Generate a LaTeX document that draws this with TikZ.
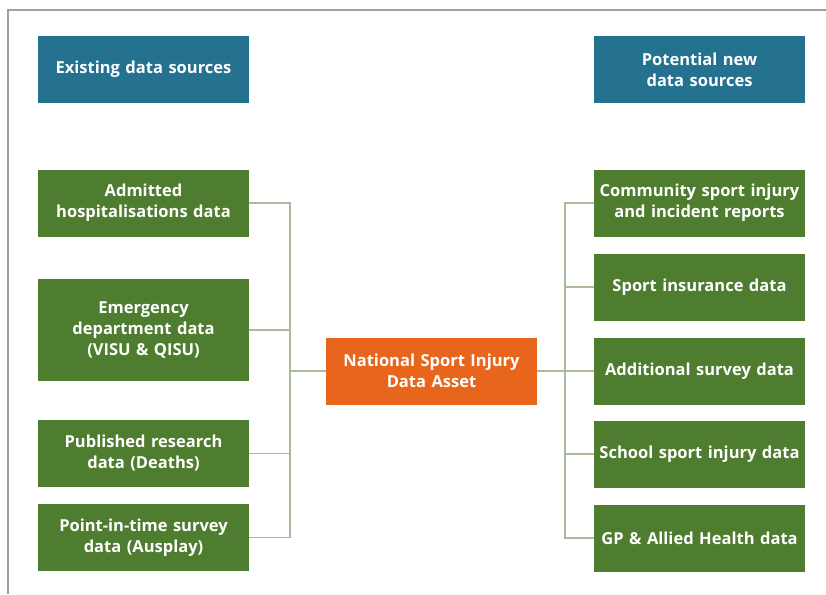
\documentclass[tikz,border=0pt]{standalone}
\usepackage{fontspec}
\setmainfont{Open Sans}
\usepackage{xcolor}
\usepackage{tikz}
\usetikzlibrary{calc, positioning}

\definecolor{headteal}{HTML}{24728F}
\definecolor{srcgreen}{HTML}{4F7D30}
\definecolor{hubred}{HTML}{E8661C}
\definecolor{linkgreen}{HTML}{A9BB9C}
\definecolor{framegray}{HTML}{A0A0A0}

\begin{document}
\begin{tikzpicture}[x=1pt, y=-1pt, font=\fontsize{16.5}{21}\selectfont\bfseries]
		\tikzstyle{head} = [fill=headteal, text=white, rectangle, minimum width=211pt, minimum height=67pt, text width=205pt, align=center, inner sep=0pt]
		\tikzstyle{source} = [fill=srcgreen, text=white, rectangle, minimum width=211pt, minimum height=67pt, text width=205pt, align=center, inner sep=0pt]
		\tikzstyle{hub} = [fill=hubred, text=white, rectangle, minimum width=211pt, minimum height=67pt, text width=205pt, align=center, inner sep=0pt]
		\tikzstyle{link} = [draw=linkgreen, line width=1.4pt]
		
		\useasboundingbox (0,0) rectangle (826,594);
		\draw [framegray, line width=1.3pt] (826,10) -- (8,10) -- (8,594);
		
		\node[head]		at (143.5, 69.5)	(h1)	{Existing data sources};
		\node[head]		at (699.5, 69.5)	(h2)	{Potential new\\data sources};
		
		\node[source]	at (143.5, 203)		(l1)	{Admitted\\hospitalisations data};
		\node[source, minimum height=102pt]	at (143.5, 330)	(l2)	{Emergency\\department data\\(VISU \& QISU)};
		\node[source]	at (143.5, 453.5)	(l3)	{Published research\\data (Deaths)};
		\node[source]	at (143.5, 537.5)	(l4)	{Point-in-time survey\\data (Ausplay)};
		
		\node[hub]		at (431.5, 371)		(c0)	{National Sport Injury\\Data Asset};
		
		\node[source]	at (699.5, 203)		(r1)	{Community sport injury\\and incident reports};
		\node[source]	at (699.5, 287)		(r2)	{Sport insurance data};
		\node[source]	at (699.5, 371)		(r3)	{Additional survey data};
		\node[source]	at (699.5, 454)		(r4)	{School sport injury data};
		\node[source]	at (699.5, 538)		(r5)	{GP \& Allied Health data};
		
		\coordinate (lbus) at (290, 371);
		\coordinate (rbus) at (565, 371);
		
		\draw [link] (l1.east) -| (lbus);
		\draw [link] (l2.east) -| (lbus);
		\draw [link] (l3.east) -| (lbus);
		\draw [link] (l4.east) -| (lbus);
		\draw [link] (lbus) -- (c0.west);
		
		\draw [link] (c0.east) -- (r3.west);
		\draw [link] (r1.west) -| (rbus);
		\draw [link] (r2.west) -| (rbus);
		\draw [link] (r4.west) -| (rbus);
		\draw [link] (r5.west) -| (rbus);
		
	\end{tikzpicture}
\end{document}
